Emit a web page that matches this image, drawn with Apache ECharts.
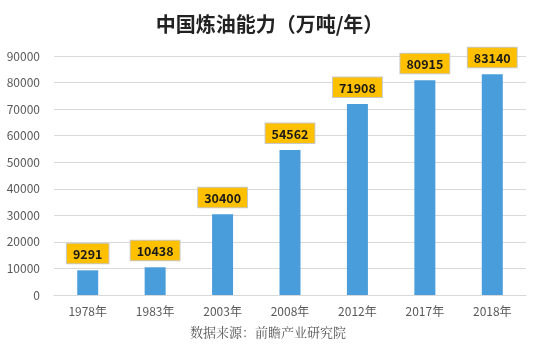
<!DOCTYPE html>
<html>
<head>
<meta charset="utf-8">
<script src="https://cdn.jsdelivr.net/npm/echarts@6/dist/echarts.min.js"></script>
<style>
  html, body { margin: 0; padding: 0; background: #fff; }
  .chart { width: 539px; height: 351px; }
</style>
</head>
<body>
<div class="chart"></div>
<script>
// 中国炼油能力
var years = ["1978年", "1983年", "2003年", "2008年", "2012年", "2017年", "2018年"];
var capacity = [9291, 10438, 30400, 54562, 71908, 80915, 83140];
var yTicks = [0, 10000, 20000, 30000, 40000, 50000, 60000, 70000, 80000, 90000];

(() => {
  var myChart = echarts.init(document.querySelector(".chart"));
  var font = "'Microsoft YaHei', 'Noto Sans CJK SC', sans-serif";

  var option = {
    animation: false,
    textStyle: { fontFamily: font },
    title: {
      text: "中国炼油能力（万吨/年）",
      left: "center",
      top: 9,
      textStyle: {
        fontFamily: font,
        fontSize: 20,
        fontWeight: "bold",
        color: "#222"
      }
    },
    graphic: [
      {
        type: "text",
        left: 190,
        top: 326,
        style: {
          text: "数据来源：前瞻产业研究院",
          fontFamily: "'Noto Serif CJK SC', 'Noto Sans CJK SC', serif",
          fontSize: 13,
          fill: "#555"
        }
      }
    ],
    grid: {
      left: 54,
      right: 13,
      top: 56,
      bottom: 56
    },
    xAxis: {
      type: "category",
      data: years,
      axisTick: { show: false },
      axisLine: { lineStyle: { color: "#d9d9d9" } },
      axisLabel: {
        color: "#595959",
        fontSize: 12,
        margin: 10
      }
    },
    yAxis: {
      type: "value",
      min: yTicks[0],
      max: yTicks[yTicks.length - 1],
      interval: 10000,
      axisLine: { show: false },
      axisTick: { show: false },
      axisLabel: {
        color: "#595959",
        fontSize: 12,
        margin: 14,
        formatter: function(v) { return String(v); }
      },
      splitLine: { lineStyle: { color: "#d9d9d9" } }
    },
    series: [
      {
        type: "bar",
        data: capacity,
        barWidth: 21,
        itemStyle: { color: "#4a9ddb" },
        label: {
          show: true,
          position: "top",
          distance: 7,
          backgroundColor: "#ffc000",
          borderColor: "#c8c8c8",
          borderWidth: 1,
          padding: [4, 6, 3, 6],
          color: "#1a1a1a",
          fontWeight: "bold",
          fontSize: 12.5,
          fontFamily: font
        }
      }
    ]
  };

  myChart.setOption(option);
  window.addEventListener("resize", function() {
    myChart.resize();
  });
})();
</script>
</body>
</html>
